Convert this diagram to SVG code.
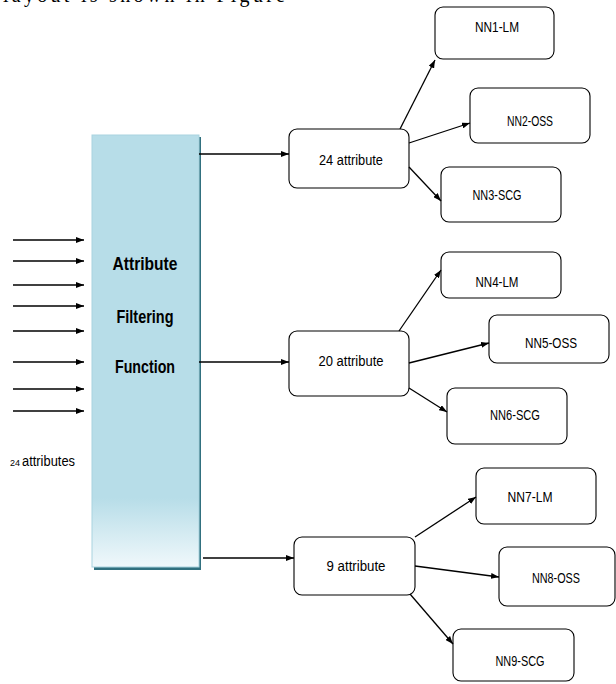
<svg xmlns="http://www.w3.org/2000/svg" width="616" height="684" viewBox="0 0 616 684">
<defs>
<linearGradient id="fg" x1="0" y1="0" x2="0" y2="1">
<stop offset="0" stop-color="#b7dde8"/>
<stop offset="0.84" stop-color="#b7dde8"/>
<stop offset="1" stop-color="#f0f8fb"/>
</linearGradient>
<marker id="ah" viewBox="0 0 8 6" refX="8" refY="3" markerWidth="8" markerHeight="6" markerUnits="userSpaceOnUse" orient="auto">
<path d="M0,0 L8,3 L0,6 Z" fill="#000"/>
</marker>
<style>
.box{fill:#fff;stroke:#000;stroke-width:1.1}
.lbl{font-family:"Liberation Sans",Arial,sans-serif;font-size:14px;fill:#000;text-anchor:middle}
.ttl{font-family:"Liberation Sans",Arial,sans-serif;font-size:18px;font-weight:bold;fill:#000;text-anchor:middle}
.cn line{stroke:#000;stroke-width:1.3;marker-end:url(#ah)}
</style>
</defs>
<rect width="616" height="684" fill="#fff"/>
<text x="3" y="2" font-family="'Liberation Serif','Times New Roman',serif" font-size="20" textLength="282" fill="#000">layout is shown in Figure</text>

<g id="filter">
<rect x="94" y="137" width="107" height="433" fill="#31707f"/>
<rect x="92" y="135" width="107" height="432" fill="url(#fg)" stroke="#a9d3df" stroke-width="1"/>
<text class="ttl" x="145" y="270" textLength="65" lengthAdjust="spacingAndGlyphs">Attribute</text>
<text class="ttl" x="145" y="323" textLength="57" lengthAdjust="spacingAndGlyphs">Filtering</text>
<text class="ttl" x="145" y="373" textLength="60" lengthAdjust="spacingAndGlyphs">Function</text>
</g>

<g id="inputs-label">
<text x="10" y="466" font-family="'Liberation Sans',Arial,sans-serif" font-size="9" fill="#000">24</text>
<text x="22" y="466" font-family="'Liberation Sans',Arial,sans-serif" font-size="14" textLength="53" lengthAdjust="spacingAndGlyphs" fill="#000">attributes</text>
</g>

<g id="a24"><rect class="box" x="289" y="129" width="120" height="59" rx="8"/><text class="lbl" x="351" y="165" textLength="64" lengthAdjust="spacingAndGlyphs">24 attribute</text></g>
<g id="a20"><rect class="box" x="289" y="331" width="120" height="65" rx="8"/><text class="lbl" x="351" y="366" textLength="65" lengthAdjust="spacingAndGlyphs">20 attribute</text></g>
<g id="a9"><rect class="box" x="294" y="537" width="121" height="58" rx="8"/><text class="lbl" x="356" y="571" textLength="59" lengthAdjust="spacingAndGlyphs">9 attribute</text></g>

<g id="nn1"><rect class="box" x="435" y="7" width="119" height="52" rx="8"/><text class="lbl" x="497" y="32" textLength="44" lengthAdjust="spacingAndGlyphs">NN1-LM</text></g>
<g id="nn2"><rect class="box" x="470" y="88" width="120" height="55" rx="8"/><text class="lbl" x="530" y="126" textLength="46" lengthAdjust="spacingAndGlyphs">NN2-OSS</text></g>
<g id="nn3"><rect class="box" x="441" y="167" width="120" height="55" rx="8"/><text class="lbl" x="497" y="200" textLength="49" lengthAdjust="spacingAndGlyphs">NN3-SCG</text></g>
<g id="nn4"><rect class="box" x="441" y="252" width="120" height="46" rx="8"/><text class="lbl" x="497" y="287" textLength="43" lengthAdjust="spacingAndGlyphs">NN4-LM</text></g>
<g id="nn5"><rect class="box" x="489" y="315" width="120" height="48" rx="8"/><text class="lbl" x="551" y="348" textLength="52" lengthAdjust="spacingAndGlyphs">NN5-OSS</text></g>
<g id="nn6"><rect class="box" x="447" y="388" width="120" height="56" rx="8"/><text class="lbl" x="515" y="420" textLength="50" lengthAdjust="spacingAndGlyphs">NN6-SCG</text></g>
<g id="nn7"><rect class="box" x="476" y="468" width="120" height="56" rx="8"/><text class="lbl" x="530" y="502" textLength="45" lengthAdjust="spacingAndGlyphs">NN7-LM</text></g>
<g id="nn8"><rect class="box" x="499" y="547" width="116" height="59" rx="8"/><text class="lbl" x="556" y="583" textLength="48" lengthAdjust="spacingAndGlyphs">NN8-OSS</text></g>
<g id="nn9"><rect class="box" x="453" y="629" width="121" height="52" rx="8"/><text class="lbl" x="520" y="666" textLength="49" lengthAdjust="spacingAndGlyphs">NN9-SCG</text></g>

<g id="connectors" class="cn">
<line x1="13" y1="240" x2="84" y2="240"/>
<line x1="13" y1="261" x2="84" y2="261"/>
<line x1="13" y1="285" x2="84" y2="285"/>
<line x1="13" y1="306" x2="84" y2="306"/>
<line x1="13" y1="331" x2="84" y2="331"/>
<line x1="13" y1="362" x2="84" y2="362"/>
<line x1="13" y1="389" x2="84" y2="389"/>
<line x1="13" y1="411" x2="84" y2="411"/>
<line x1="199" y1="154" x2="289" y2="154"/>
<line x1="199" y1="362" x2="289" y2="362"/>
<line x1="203" y1="558" x2="294" y2="558"/>
<line x1="400" y1="129" x2="435" y2="60"/>
<line x1="409" y1="143" x2="470" y2="123"/>
<line x1="409" y1="167" x2="441" y2="201"/>
<line x1="399" y1="331" x2="441" y2="270"/>
<line x1="409" y1="363" x2="489" y2="343"/>
<line x1="409" y1="388" x2="447" y2="412"/>
<line x1="415" y1="537" x2="476" y2="497"/>
<line x1="415" y1="566" x2="499" y2="577"/>
<line x1="410" y1="594" x2="453" y2="644"/>
</g>
</svg>
